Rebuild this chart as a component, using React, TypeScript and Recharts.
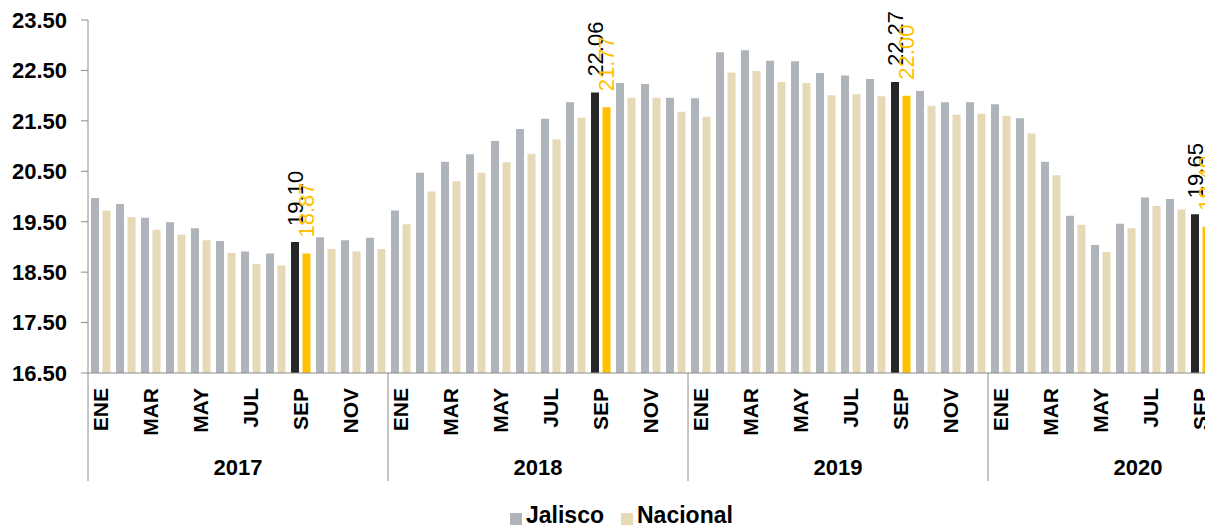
import { BarChart, Bar, XAxis, YAxis, Cell, Legend, LabelList } from 'recharts'

const months = ['ENE', 'FEB', 'MAR', 'ABR', 'MAY', 'JUN', 'JUL', 'AGO', 'SEP', 'OCT', 'NOV', 'DIC']
const years = ['2017', '2018', '2019', '2020']

const jalisco2017 = [19.97, 19.85, 19.58, 19.49, 19.37, 19.12, 18.91, 18.87, 19.1, 19.19, 19.13, 19.18]
const nacional2017 = [19.72, 19.59, 19.34, 19.24, 19.13, 18.88, 18.66, 18.63, 18.87, 18.96, 18.91, 18.96]
const jalisco2018 = [19.72, 20.47, 20.69, 20.84, 21.1, 21.34, 21.54, 21.87, 22.06, 22.25, 22.23, 21.96]
const nacional2018 = [19.45, 20.1, 20.3, 20.47, 20.68, 20.85, 21.13, 21.56, 21.77, 21.96, 21.96, 21.68]
const jalisco2019 = [21.95, 22.86, 22.9, 22.69, 22.68, 22.45, 22.4, 22.33, 22.27, 22.09, 21.87, 21.87]
const nacional2019 = [21.58, 22.46, 22.49, 22.27, 22.25, 22.01, 22.03, 21.99, 22.0, 21.8, 21.62, 21.64]
const jalisco2020 = [21.83, 21.55, 20.69, 19.62, 19.04, 19.46, 19.98, 19.95, 19.65, null, null, null]
const nacional2020 = [21.6, 21.25, 20.42, 19.44, 18.9, 19.37, 19.81, 19.74, 19.4, null, null, null]

const yTicks = [16.5, 17.5, 18.5, 19.5, 20.5, 21.5, 22.5, 23.5]
const highlightMonth = 'SEP'

const jaliscoByYear = [jalisco2017, jalisco2018, jalisco2019, jalisco2020]
const nacionalByYear = [nacional2017, nacional2018, nacional2019, nacional2020]

const data = years.flatMap((year, yi) =>
	months.map((month, mi) => ({
		key: `${month} ${year}`,
		month,
		year,
		jalisco: jaliscoByYear[yi][mi],
		nacional: nacionalByYear[yi][mi],
	}))
)

const FONT = '"Liberation Sans", Arial, sans-serif'
const GRAY = '#aeb4ba'
const BEIGE = '#e5d9b6'
const DARK = '#262626'
const GOLD = '#ffc000'
const AXIS = '#8c8c8c'

const MonthTick = (props: any) => {
	const { x, y, payload, index } = props
	const half = payload.offset ?? 12.5
	const row = data[index]
	return (
		<g>
			{index % 12 === 0 && (
				<line x1={x - half} x2={x - half} y1={y} y2={y + 108} stroke={AXIS} strokeWidth={1} />
			)}
			{index % 2 === 0 && (
				<text
					transform={`translate(${x},${y + 15}) rotate(-90)`}
					textAnchor='end'
					dominantBaseline='central'
					fontFamily={FONT}
					fontWeight='bold'
					fontSize={21}
					fill='#000'
				>
					{row ? row.month : ''}
				</text>
			)}
		</g>
	)
}

const YearTick = (props: any) => {
	const { x, y, payload, index } = props
	const half = payload.offset ?? 12.5
	if (index % 12 !== 6) return <g />
	return (
		<text
			x={x - half}
			y={y + 14}
			textAnchor='middle'
			dominantBaseline='central'
			fontFamily={FONT}
			fontWeight='bold'
			fontSize={22}
			fill='#000'
		>
			{data[index].year}
		</text>
	)
}

const valueLabel = (color: string) => (props: any) => {
	const { x, y, width, value, index } = props
	if (value == null || data[index].month !== highlightMonth) return null
	return (
		<text
			transform={`translate(${x + width / 2},${y - 16}) rotate(-90)`}
			textAnchor='start'
			dominantBaseline='central'
			fontFamily={FONT}
			fontSize={22}
			fill={color}
		>
			{Number(value).toFixed(2)}
		</text>
	)
}

const App = () => {
	return (
		<div style={{ position: 'absolute', left: 0, top: 0, width: 1205, height: 527, overflow: 'hidden', background: '#fff' }}>
			<BarChart
				width={1310}
				height={527}
				data={data}
				margin={{ top: 20, right: 22, left: 0, bottom: 0 }}
				barGap={3.5}
			>
				<XAxis
					dataKey='key'
					interval={0}
					tickLine={false}
					tickSize={0}
					tickMargin={0}
					axisLine={{ stroke: AXIS }}
					height={80}
					tick={<MonthTick />}
				/>
				<XAxis
					xAxisId='year'
					dataKey='key'
					interval={0}
					tickLine={false}
					tickSize={0}
					tickMargin={0}
					axisLine={false}
					height={50}
					tick={<YearTick />}
				/>
				<YAxis
					domain={[16.5, 23.5]}
					ticks={yTicks}
					interval={0}
					width={88}
					tickSize={7}
					tickMargin={14}
					axisLine={{ stroke: AXIS }}
					tickLine={{ stroke: AXIS }}
					tickFormatter={(v: number) => v.toFixed(2)}
					tick={{ fontFamily: FONT, fontWeight: 'bold', fontSize: 22, fill: '#000' }}
				/>
				<Legend
					verticalAlign='bottom'
					iconType='square'
					iconSize={12}
					wrapperStyle={{ left: 510, width: 'auto', bottom: 0, height: 24, lineHeight: '24px', overflow: 'visible' }}
					formatter={(value: string) => (
						<span style={{ color: '#000', fontFamily: FONT, fontWeight: 'bold', fontSize: 23, marginRight: 7 }}>
							{value}
						</span>
					)}
				/>
				<Bar dataKey='jalisco' name='Jalisco' fill={GRAY} barSize={8} isAnimationActive={false}>
					{data.map((entry, index) => (
						<Cell key={`j-${index}`} fill={entry.month === highlightMonth ? DARK : GRAY} />
					))}
					<LabelList dataKey='jalisco' content={valueLabel('#000')} />
				</Bar>
				<Bar dataKey='nacional' name='Nacional' fill={BEIGE} barSize={8} isAnimationActive={false}>
					{data.map((entry, index) => (
						<Cell key={`n-${index}`} fill={entry.month === highlightMonth ? GOLD : BEIGE} />
					))}
					<LabelList dataKey='nacional' content={valueLabel(GOLD)} />
				</Bar>
			</BarChart>
		</div>
	)
}

export default App
